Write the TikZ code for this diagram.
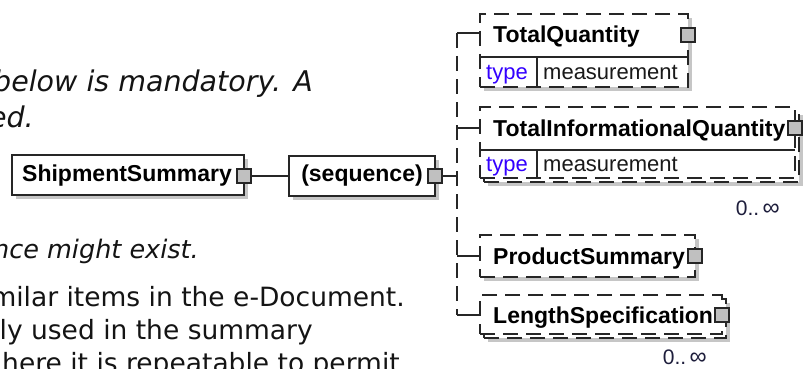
\documentclass[tikz,border=0pt]{standalone}
\usepackage{fontspec}
\setmainfont{Liberation Sans}
\newfontfamily\verd{DejaVu Sans}
\usetikzlibrary{shadows}
\definecolor{typeblue}{RGB}{51,0,255}
\definecolor{shadowc}{RGB}{198,198,198}
\definecolor{sqfill}{RGB}{192,192,192}
\definecolor{occc}{RGB}{30,30,60}
\newcommand{\infsym}{{\fontsize{24}{24}\selectfont ∞}}
\begin{document}
\begin{tikzpicture}[x=1pt,y=-1pt,
  box/.style={draw=black!85, line width=1.2pt, fill=white, inner sep=0pt, outer sep=0pt, anchor=north west},
  optbox/.style={box, dash pattern=on 15pt off 8pt},
  shad/.style={drop shadow={shadow xshift=4pt, shadow yshift=-4pt, fill=shadowc, opacity=1}},
  sq/.style={draw=black!85, fill=sqfill, line width=1.2pt, minimum size=14pt, inner sep=0pt, outer sep=0pt},
  conn/.style={draw=black!85, line width=1.2pt},
  vdash/.style={conn, dash pattern=on 15pt off 8pt},
  lbl/.style={font=\fontsize{23}{27}\selectfont\bfseries, anchor=base west, inner sep=0pt},
  clbl/.style={font=\fontsize{23}{27}\selectfont\bfseries, inner sep=0pt},
  typetxt/.style={font=\fontsize{22}{26}\selectfont, text=typeblue, anchor=base west, inner sep=0pt},
  valtxt/.style={font=\fontsize{22}{26}\selectfont, text=black!90, anchor=base west, inner sep=0pt},
  occ/.style={font=\fontsize{21}{25}\selectfont, text=occc, anchor=base east, inner sep=0pt},
  docit/.style={font=\verd\itshape\fontsize{28.5}{34}\selectfont, anchor=base east, inner sep=0pt, text=black!92},
  docit2/.style={font=\verd\itshape\fontsize{25.5}{31}\selectfont, anchor=base east, inner sep=0pt, text=black!92},
  docrm/.style={font=\verd\fontsize{26.5}{32}\selectfont, anchor=base east, inner sep=0pt, text=black!92}
]
\useasboundingbox (0,0) rectangle (805,369);
\fill[white] (0,0) rectangle (805,369);

% document text (clipped at the picture edges, as in the reference)
\begin{scope}
\clip (0,0) rectangle (805,369);
\node[docit] (t1) at (313,92) {below is mandatory. A};
\node[docit] (t2) at (34,127) {ed.};
\node[docit2] (t3) at (199,258) {nce might exist.};
\node[docrm] (t4) at (405,306) {milar items in the e-Document.};
\node[docrm] (t5) at (313,339) {ly used in the summary};
\node[docrm] (t6) at (400,372) {here it is repeatable to permit};
\end{scope}

% ShipmentSummary
\node[box, shad, minimum width=232pt, minimum height=40pt] (ss) at (12,155) {};
\node[clbl] (sst) at (127,176) {ShipmentSummary};
\node[sq] (ssq) at (244,176) {};

% sequence
\node[box, shad, minimum width=146pt, minimum height=40pt] (seq) at (289,156) {};
\node[clbl] (seqt) at (362,176) {(sequence)};
\node[sq] (seqq) at (435,176) {};

\coordinate (J) at (457,176);
\coordinate (vt) at (457,33);
\coordinate (b2) at (457,128);
\coordinate (b3) at (457,256);
\coordinate (vb) at (457,315);

% TotalQuantity
\node[optbox, shad, minimum width=208pt, minimum height=73pt] (tq) at (480,14) {};
\draw[conn] (480,57) -- (688,57);
\draw[conn] (537,57) -- (537,87);
\node[lbl] (tqt) at (493,43) {TotalQuantity};
\node[typetxt] (tqk) at (486,79) {type};
\node[valtxt] (tqv) at (543,79) {measurement};
\node[sq] (tqq) at (688,35) {};

% TotalInformationalQuantity (repeated)
\node[optbox, shad, minimum width=315pt, minimum height=71pt] (tiqb) at (484,111) {};
\node[optbox, minimum width=315pt, minimum height=71pt] (tiq) at (480,107) {};
\draw[conn] (480,150) -- (795,150);
\draw[conn] (537,150) -- (537,178);
\node[lbl] (tiqt) at (493,136) {TotalInformationalQuantity};
\node[typetxt] (tiqk) at (486,171) {type};
\node[valtxt] (tiqv) at (543,171) {measurement};
\node[sq] (tiqq) at (795,128) {};
\node[occ] (o1) at (780,215) {0..\,\infsym};

% ProductSummary
\node[optbox, shad, minimum width=215pt, minimum height=42pt] (ps) at (480,235) {};
\node[lbl] (pst) at (493,264) {ProductSummary};
\node[sq] (psq) at (695,256) {};

% LengthSpecification (repeated)
\node[optbox, shad, minimum width=242pt, minimum height=39pt] (lsb) at (484,299) {};
\node[optbox, minimum width=242pt, minimum height=39pt] (ls) at (480,295) {};
\node[lbl] (lst) at (493,323) {LengthSpecification};
\node[sq] (lsq) at (722,315) {};
\node[occ] (o2) at (707,364) {0..\,\infsym};

% connectors
\draw[conn] (ssq.east) -- (seq.west);
\draw[conn] (seqq.east) -- (J);
\draw[vdash] (vt) -- (vb);
\draw[conn] (vt) -- (vt -| tq.west);
\draw[conn] (b2) -- (b2 -| tiq.west);
\draw[conn] (b3) -- (b3 -| ps.west);
\draw[conn] (vb) -- (vb -| ls.west);
\end{tikzpicture}
\end{document}
